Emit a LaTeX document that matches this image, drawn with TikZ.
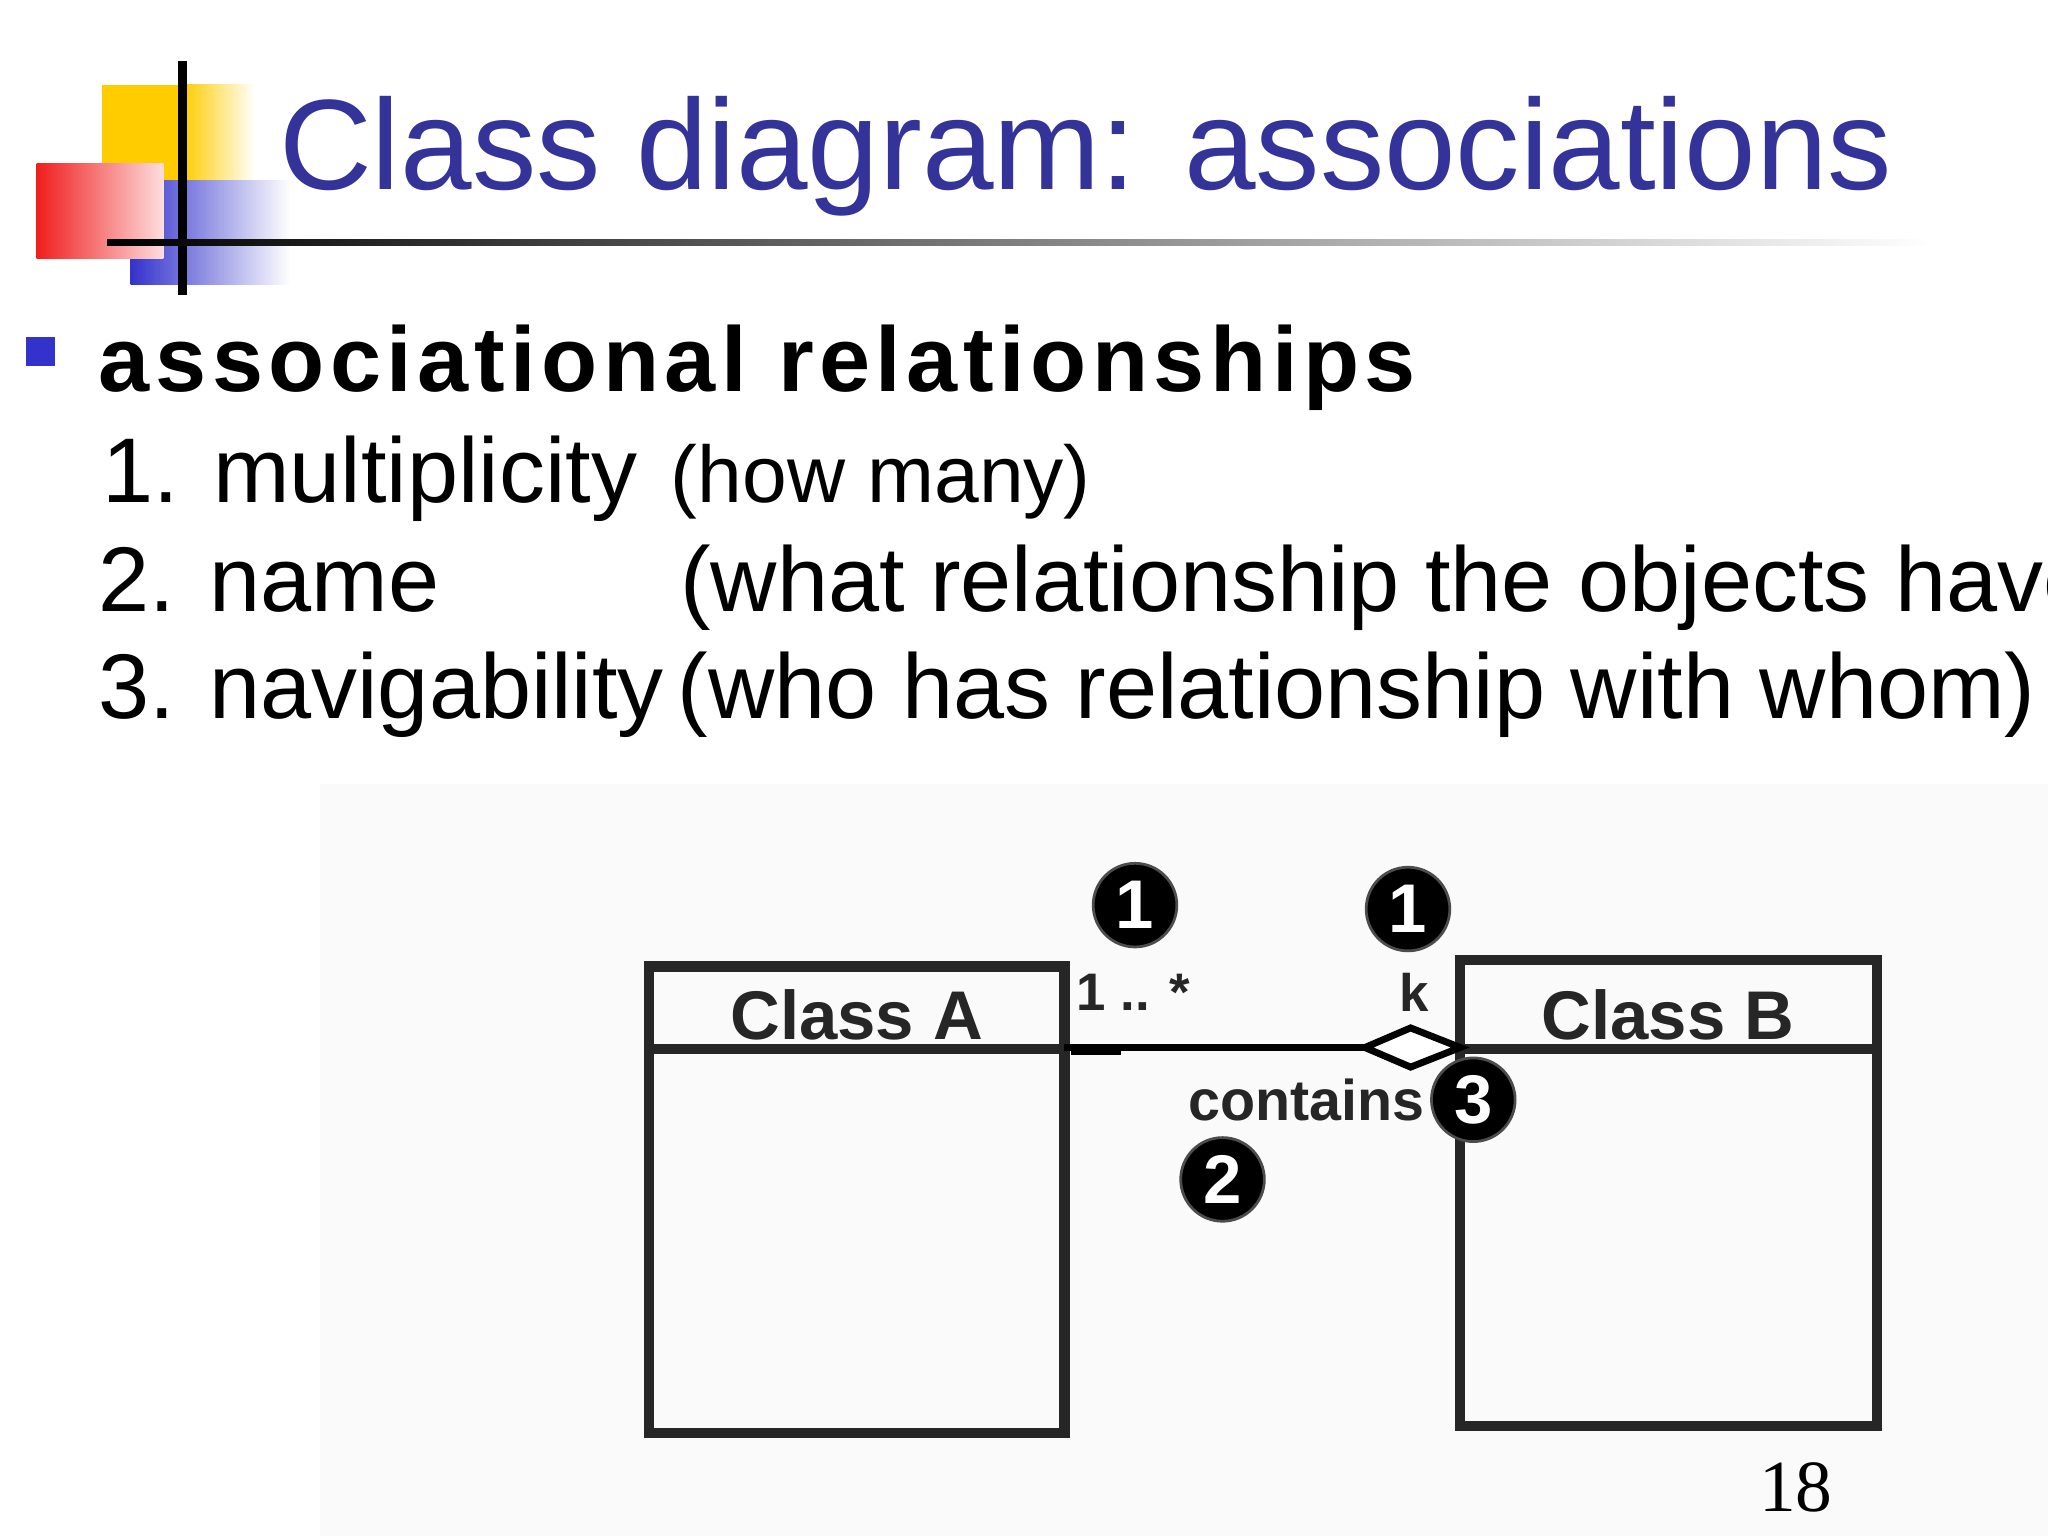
\documentclass[tikz,border=0pt]{standalone}
\usepackage{fontspec}
\setmainfont{Liberation Sans}
\newfontfamily\serifpg{Liberation Serif}
\definecolor{titleblue}{RGB}{51,51,153}
\definecolor{logoyel}{RGB}{255,204,0}
\definecolor{logored}{RGB}{240,30,30}
\definecolor{logoblue}{RGB}{51,51,204}
\tikzset{
  cls/.style={draw=black!85, line width=2.2pt},
  badge/.style={circle, fill=black, draw=black!70, line width=0.6pt, minimum size=0.64cm, inner sep=0pt, text=white, font=\fontsize{15}{15}\selectfont\bfseries},
  lbl/.style={font=\fontsize{11.5}{12}\selectfont\bfseries, text=black!85, inner sep=0pt},
  body/.style={anchor=base west, inner sep=0pt, font=\fontsize{20}{22}\selectfont},
}
\begin{document}
\begin{tikzpicture}[x=0.01cm,y=-0.01cm]
\useasboundingbox (0,0) rectangle (1568,1176);
\fill[white] (0,0) rectangle (1568,1176);
\fill[black!2] (245,600) rectangle (1568,1176);
% logo
\fill[logoyel] (78,65) rectangle (190,140);
\shade[left color=logoyel, right color=white] (140,65) rectangle (195,140);
\shade[left color=logoblue, right color=white] (100,138) rectangle (222,218);
\shade[left color=logored, right color=logored!15!white] (28,125) rectangle (125,198);
\draw[line width=2pt] (140,47) -- (140,226);
\shade[left color=black, right color=white] (82,183) rectangle (1480,188);
\node[anchor=base west, inner sep=0pt, text=titleblue, font=\fontsize{28}{30}\selectfont] (title) at (213,145) {Class diagram: associations};
% bullet
\fill[logoblue] (20,258) rectangle (42,280);
\node[anchor=base west, inner sep=0pt, font=\fontsize{20}{22}\selectfont\bfseries\addfontfeature{LetterSpace=6}] (head) at (75,300) {associational relationships};
\node[body] (l1) at (78,385) {1. multiplicity};
\node[body, font=\fontsize{17.5}{20}\selectfont] (d1) at (513,385) {(how many)};
\node[body] (l2) at (75,468) {2. name};
\node[body] (d2) at (520,468) {(what relationship the objects have)};
\node[body] (l3) at (75,550) {3. navigability};
\node[body] (d3) at (518,550) {(who has relationship with whom)};
% classes
\draw[cls] (497,740) rectangle (815,1097);
\draw[cls] (497,803) -- (815,803);
\node[lbl, font=\fontsize{15}{16}\selectfont\bfseries] (ca) at (656,777) {Class A};
\draw[cls] (1118,735) rectangle (1437,1092);
\draw[cls] (1118,803) -- (1437,803);
\node[lbl, font=\fontsize{15}{16}\selectfont\bfseries] (cb) at (1277,777) {Class B};
\coordinate (aend) at (815,802);
\coordinate (dl) at (1045,802);
\draw[line width=1.5pt] (aend) -- (dl);
\draw[line width=1.5pt, fill=white] (dl) -- (1080,787) -- (1118,802) -- (1080,817) -- cycle;
\draw[line width=1.5pt] (820,805) -- (858,805);
\node[lbl] (m1) at (868,760) {1 .. *};
\node[lbl] (mk) at (1083,760) {k};
\node[lbl, font=\fontsize{12.5}{13}\selectfont\bfseries] (nm) at (1000,842) {contains};
\node[badge] (b1) at (869,693) {1};
\node[badge] (b2) at (1078,696) {1};
\node[badge] (b3) at (1128,842) {3};
\node[badge] (b4) at (936,903) {2};
\node[anchor=base, inner sep=0pt, font=\serifpg\fontsize{16}{16}\selectfont] (pg) at (1375,1157) {18};
\end{tikzpicture}
\end{document}
